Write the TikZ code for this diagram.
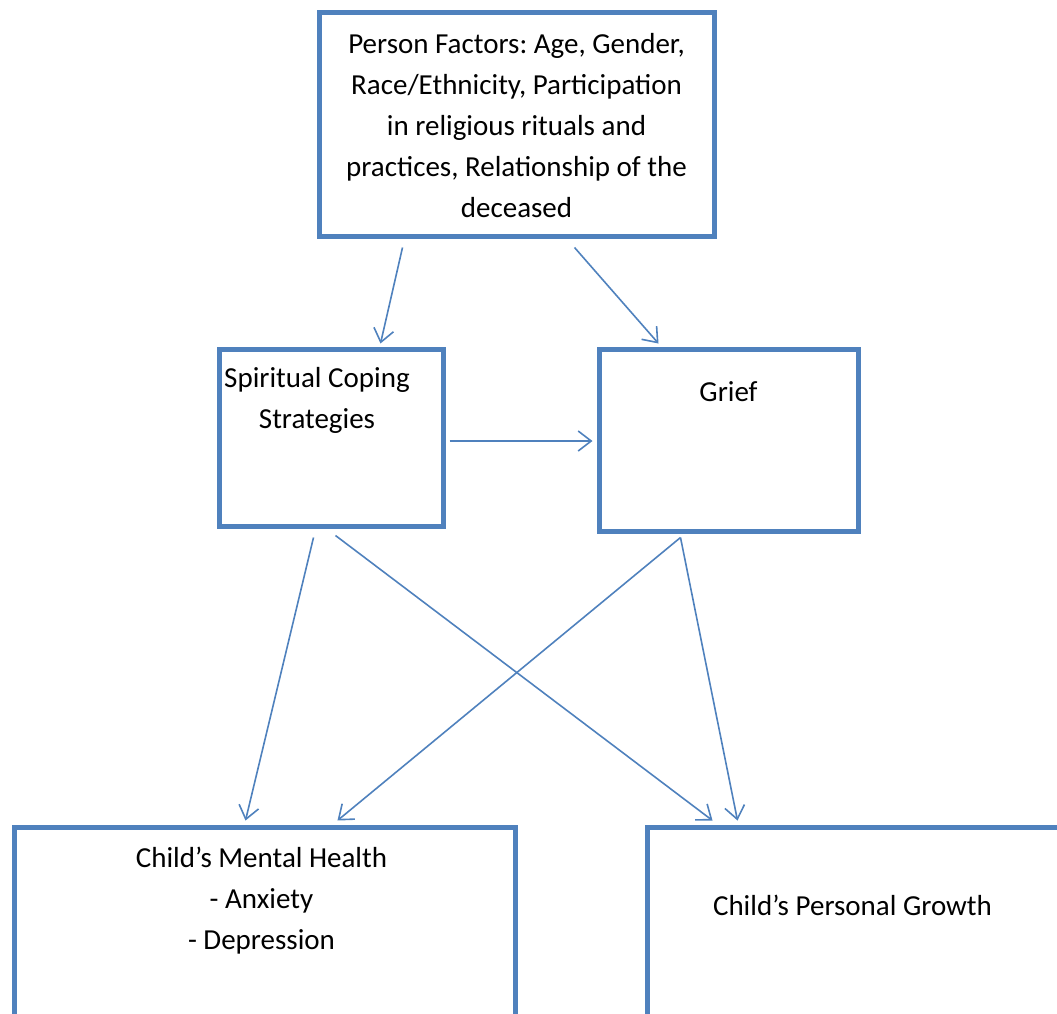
\documentclass[tikz,border=0pt]{standalone}
\usepackage{fontspec}
\setmainfont{Carlito}
\frenchspacing
\usetikzlibrary{arrows.meta,calc}
\definecolor{boxblue}{HTML}{4F81BD}
\tikzset{
  box/.style={draw=boxblue, line width=5pt, inner sep=0pt, fill=none},
  conn/.style={draw=boxblue, line width=1.6pt, -{Straight Barb[length=13pt,width=20pt,line width=1.6pt]}},
  txt/.style={font=\fontsize{29}{41}\selectfont, align=center, inner sep=0pt, text=black}
}
\begin{document}
\begin{tikzpicture}[x=1pt,y=-1pt]
\useasboundingbox (0,0) rectangle (1057,1013);
\clip (0,0) rectangle (1057,1013);
% boxes
\node[box, minimum width=395pt, minimum height=224pt] (top) at (516.5,124) {};
\node[box, minimum width=224pt, minimum height=177pt] (sp) at (331,437.5) {};
\node[box, minimum width=259pt, minimum height=182pt] (gr) at (728.5,440) {};
\node[box, minimum width=501pt, minimum height=223pt] (mh) at (264.5,938.5) {};
\node[box, minimum width=443pt, minimum height=223pt] (pg) at (868.5,938.5) {};
% texts
\node[txt] (toptxt) at ($(top.center)+(0,1.5)$) {Person Factors: Age, Gender,\\Race/Ethnicity, Participation\\in religious rituals and\\practices, Relationship of the\\deceased};
\node[txt] (sptxt) at ($(sp.north)+(-14,54)$) {Spiritual Coping\\Strategies};
\node[txt] (grtxt) at ($(gr.north)+(0,45)$) {Grief};
\node[txt] (mhtxt) at ($(mh.north west)+(250,76)$) {Child’s Mental Health\\- Anxiety\\- Depression};
\node[txt] (pgtxt) at ($(pg.north west)+(208,81)$) {Child’s Personal Growth};
% connectors
\draw[conn] ($(top.south west)+(86,9)$) -- ($(sp.north west)+(164,-3)$);
\draw[conn] ($(top.south west)+(258,9)$) -- ($(gr.north west)+(62,-3)$);
\draw[conn] ($(sp.east)+(4,3.5)$) -- ($(gr.west)+(-4,1)$);
\draw[conn] ($(sp.south west)+(97,9)$) -- ($(mh.north west)+(234,-4)$);
\draw[conn] ($(sp.south west)+(119,7)$) -- ($(pg.north west)+(68,-4)$);
\draw[conn] ($(gr.south west)+(84,4)$) -- ($(mh.north west)+(326,-4)$);
\draw[conn] ($(gr.south west)+(84,4)$) -- ($(pg.north west)+(93,-4)$);
\end{tikzpicture}
\end{document}
